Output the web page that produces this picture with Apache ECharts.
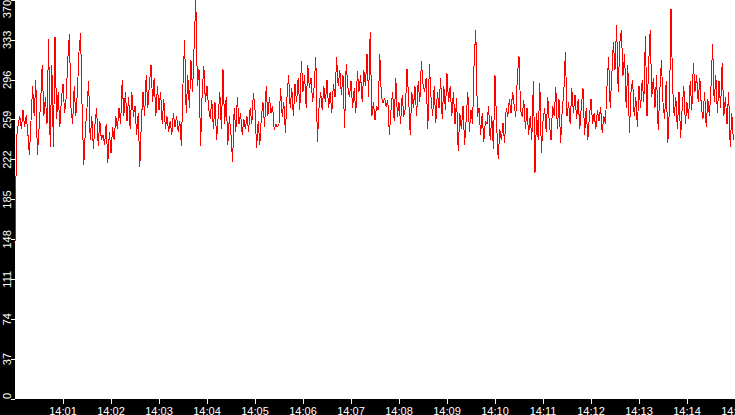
<!DOCTYPE html>
<html>
<head>
<meta charset="utf-8">
<script src="https://cdn.jsdelivr.net/npm/echarts@6/dist/echarts.min.js"></script>
<style>
html,body{margin:0;padding:0;background:#000;}
#chart{width:735px;height:415px;}
#chart svg path{shape-rendering:crispEdges;}
</style>
</head>
<body>
<div id="chart"></div>
<script>
// one sample every 2 s, starting 14:00:00
let stepSeconds = 2;
let values = [
    145,242,255,262,250, 268,252,263,247,226, 258,290,262,296,226, 250,275,310,262,280,
    255,334,234,310,234, 336,260,285,252,278, 292,265,280,315,338, 270,255,290,262,285,
    322,339,265,217,250, 270,295,240,262,232, 255,270,235,258,240, 245,236,255,219,248,
    228,252,240,262,250, 270,255,296,262,285, 258,280,250,285,262, 272,245,265,215,258,
    285,262,300,270,292, 310,275,298,262,290, 268,285,255,278,250, 262,248,258,245,265,
    252,262,248,258,235, 292,333,265,300,270, 314,285,330,370,290, 306,235,285,309,275,
    290,270,260,277,250, 275,240,262,285,250, 306,255,280,236,262, 245,220,270,248,280,
    255,265,245,260,250, 262,248,270,255,284, 268,233,258,236,262, 275,252,290,262,280,
    265,272,250,255,252, 255,288,262,275,247, 280,300,270,288,262, 292,275,298,268,313,
    285,300,270,310,288, 298,275,290,317,238, 270,285,268,290,275, 296,270,285,265,292,
    280,317,290,305,282, 300,251,311,290,280, 295,270,288,265,304, 285,300,275,305,290,
    320,280,340,262,275, 259,272,268,320,280, 275,279,271,277,245, 268,285,258,298,262,
    275,255,282,262,270, 306,280,245,285,270, 290,262,295,275,313, 292,285,298,250,311,
    280,262,290,256,285, 270,298,260,290,268, 302,275,290,262,285, 255,279,230,265,250,
    272,236,260,285,248, 268,255,315,342,262, 270,245,265,238,258, 255,272,240,262,232,
    300,255,223,250,240, 256,237,270,262,278, 265,285,272,262,300, 318,268,262,277,250,
    270,245,262,240,295, 210,265,240,293,228, 258,270,248,280,255, 240,272,262,289,250,
    278,237,268,285,322, 262,275,255,288,265, 282,260,278,250,272, 288,245,270,240,262,
    278,255,265,250,268, 258,271,247,262,255, 290,317,270,300,331, 305,347,285,330,342,
    300,320,270,310,247, 285,296,262,280,252, 290,270,296,275,337, 262,310,342,280,298,
    270,300,249,285,314, 275,260,295,237,270, 362,290,262,280,250, 285,242,270,290,255,
    275,260,295,268,312, 285,300,275,298,270, 260,285,252,278,262, 290,329,275,300,265,
    295,270,312,262,280, 255,285,234,265,240
];
let timeLabels = ['14:00','14:01','14:02','14:03','14:04','14:05','14:06','14:07',
    '14:08','14:09','14:10','14:11','14:12','14:13','14:14','14:15'];
let xTickSeconds = [60,120,180,240,300,360,420,480,540,600,660,720,780,840,900];

let yMin = 0;
let yMax = 370;
let yStep = 37;

let chart = "";
function optionChart(){
    const data = [];
    for(let i=0;i<values.length;i++){
        data.push([i*stepSeconds, values[i]]);
    }
    const labelFont = {
        color: '#fff',
        fontSize: 11,
        fontFamily: 'Liberation Sans'
    };
    let option = {
        backgroundColor: '#000',
        animation: false,
        grid: {
            show: true,
            left: 15,
            right: 0,
            top: 0,
            bottom: 16,
            outerBoundsMode: 'none',
            containLabel: false,
            backgroundColor: '#fff',
            borderWidth: 0
        },
        xAxis: {
            type: 'value',
            min: 0,
            max: 900,
            interval: 60,
            axisLine: {show: false},
            splitLine: {show: false},
            axisTick: {
                show: true,
                length: 5,
                customValues: xTickSeconds,
                lineStyle: {color: '#fff', width: 1}
            },
            axisLabel: Object.assign({
                margin: 6,
                customValues: xTickSeconds,
                hideOverlap: false,
                formatter: function(v){ return timeLabels[Math.round(v/60)]; }
            }, labelFont)
        },
        yAxis: {
            type: 'value',
            min: yMin,
            max: yMax,
            interval: yStep,
            axisLine: {show: false},
            splitLine: {show: false},
            axisTick: {
                show: true,
                length: 4,
                lineStyle: {color: '#fff', width: 1}
            },
            axisLabel: Object.assign({
                rotate: 90,
                margin: 3,
                alignMinLabel: 'left',
                alignMaxLabel: 'right'
            }, labelFont)
        },
        series: [{
            type: 'line',
            data: data,
            showSymbol: false,
            silent: true,
            clip: false,
            lineStyle: {color: '#ff0000', width: 1}
        }]
    };
    chart = echarts.init(document.getElementById("chart"), null, {renderer: 'svg'});
    chart.setOption(option);
}
optionChart();
</script>
</body>
</html>
